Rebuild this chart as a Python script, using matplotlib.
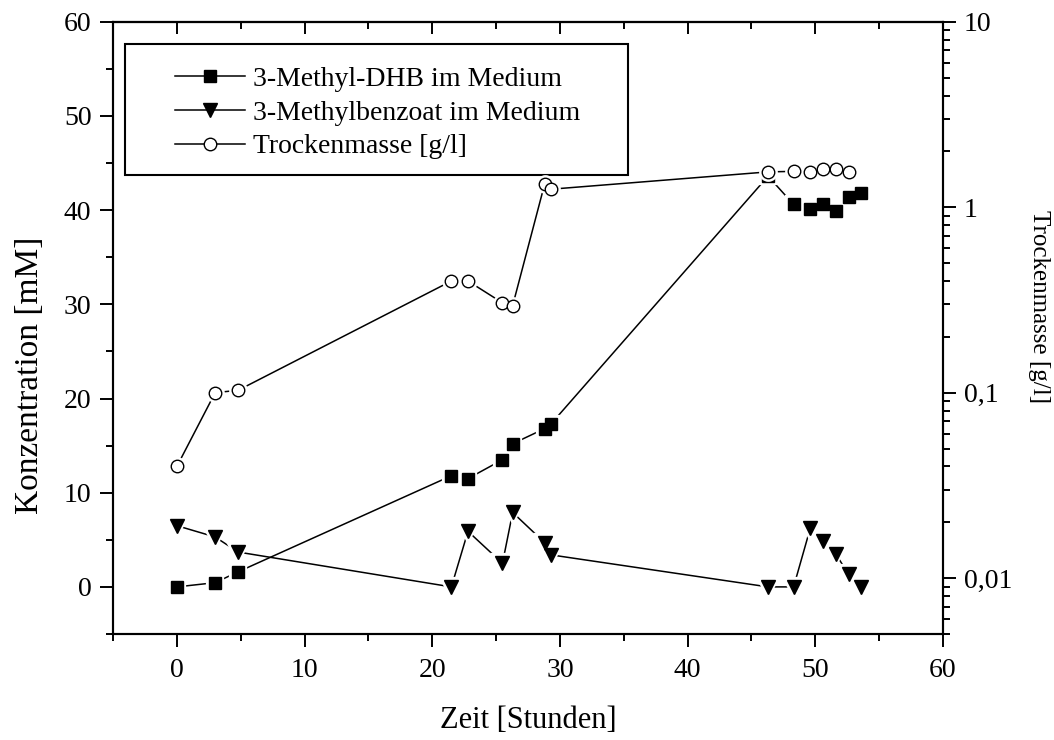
import matplotlib
matplotlib.use("Agg")
import matplotlib.pyplot as plt
from matplotlib.ticker import MultipleLocator, FixedLocator, FixedFormatter, LogLocator, NullFormatter
from matplotlib.lines import Line2D
from matplotlib.patches import Rectangle

plt.rcParams['font.family'] = ['Liberation Serif', 'DejaVu Serif']

# Sampling times [h]
time_h = [0, 3.0, 4.8, 21.5, 22.8, 25.5, 26.3, 28.8, 29.3,
          46.3, 48.3, 49.6, 50.6, 51.6, 52.6, 53.6]

# 3-Methyl-DHB in the medium [mM]
dhb_mM = [0.0, 0.45, 1.6, 11.8, 11.5, 13.5, 15.2, 16.8, 17.3,
          43.6, 40.6, 40.1, 40.7, 39.9, 41.4, 41.8]

# 3-Methylbenzoate in the medium [mM]
benzoat_mM = [6.5, 5.3, 3.7, 0.0, 5.9, 2.5, 7.9, 4.7, 3.4,
              0.0, 0.0, 6.2, 4.9, 3.5, 1.35, 0.0]

# Dry mass [g/l]
drymass_time_h = [0, 3.0, 4.8, 21.5, 22.8, 25.5, 26.3, 28.8, 29.3,
                  46.3, 48.3, 49.6, 50.6, 51.6, 52.6]
drymass_gl = [0.040, 0.10, 0.103, 0.40, 0.40, 0.305, 0.295, 1.33, 1.25,
              1.55, 1.56, 1.55, 1.60, 1.60, 1.55]

labels = ['3-Methyl-DHB im Medium', '3-Methylbenzoat im Medium', 'Trockenmasse [g/l]']
right_ticks = [0.01, 0.1, 1, 10]
right_ticklabels = ['0,01', '0,1', '1', '10']

FS = 20
LW_DATA = 1.1

fig = plt.figure(figsize=(10.54, 7.4), dpi=100)
ax = fig.add_axes([113 / 1054, 106 / 740, 830 / 1054, 612.3 / 740])
ax2 = ax.twinx()


def draw_series(axis, x, y, marker, ms, face):
    # connecting line, then a white halo so the line stops short of each symbol
    axis.plot(x, y, '-', color='black', lw=LW_DATA, zorder=2)
    axis.plot(x, y, ls='none', marker=marker, ms=ms, mfc='white',
              mec='white', mew=4.5, zorder=3)
    axis.plot(x, y, ls='none', marker=marker, ms=ms, mfc=face,
              mec='black', mew=1.0, zorder=4)


draw_series(ax, time_h, dhb_mM, 's', 9, 'black')
draw_series(ax, time_h, benzoat_mM, 'v', 10.5, 'black')
draw_series(ax2, drymass_time_h, drymass_gl, 'o', 9, 'white')

# left / bottom axes
ax.set_xlim(-5, 60)
ax.set_ylim(-5, 60)
ax.xaxis.set_major_locator(MultipleLocator(10))
ax.xaxis.set_minor_locator(MultipleLocator(5))
ax.yaxis.set_major_locator(MultipleLocator(10))
ax.yaxis.set_minor_locator(MultipleLocator(5))

for sp in ax.spines.values():
    sp.set_linewidth(1.5)
for sp in ax2.spines.values():
    sp.set_linewidth(1.5)

ax.tick_params(axis='x', which='both', direction='out', bottom=True, top=False,
               labelsize=FS, width=1.4, pad=8)
ax.tick_params(axis='x', which='major', length=9.5)
ax.tick_params(axis='x', which='minor', length=5)
ax.tick_params(axis='y', which='both', direction='out', left=True, right=False,
               labelsize=FS, width=1.4, pad=6)
ax.tick_params(axis='y', which='major', length=9.5)
ax.tick_params(axis='y', which='minor', length=5)

# inward ticks along the top edge
top = ax.secondary_xaxis('top')
top.xaxis.set_major_locator(MultipleLocator(10))
top.xaxis.set_minor_locator(MultipleLocator(5))
top.tick_params(axis='x', which='both', direction='in', width=1.4, labeltop=False)
top.tick_params(axis='x', which='major', length=8.5)
top.tick_params(axis='x', which='minor', length=5)
top.spines['top'].set_linewidth(1.5)

# right logarithmic axis
ax2.set_yscale('log')
ax2.set_ylim(0.005, 10)
ax2.yaxis.set_major_locator(FixedLocator(right_ticks))
ax2.yaxis.set_major_formatter(FixedFormatter(right_ticklabels))
ax2.yaxis.set_minor_locator(LogLocator(base=10, subs=[2, 3, 4, 5, 6, 7, 8, 9], numticks=20))
ax2.yaxis.set_minor_formatter(NullFormatter())
ax2.tick_params(axis='y', which='both', direction='out', labelsize=FS, width=1.4, pad=6)
ax2.tick_params(axis='y', which='major', length=9)
ax2.tick_params(axis='y', which='minor', length=5)

# axis titles
ax.set_xlabel('Zeit [Stunden]', fontsize=22, labelpad=16)
ax.set_ylabel('Konzentration [mM]', fontsize=24)
ax.yaxis.set_label_coords(-0.1000, 0.423)
ax.yaxis.label.set_va('center')
ax.yaxis.label.set_ha('center')
ax2.set_ylabel('Trockenmasse [g/l]', fontsize=18, rotation=270)
ax2.yaxis.set_label_coords(1.1157, 0.534)
ax2.yaxis.label.set_va('center')
ax2.yaxis.label.set_ha('center')

# legend
handles = [
    Line2D([], [], color='black', lw=LW_DATA, marker='s', ms=9, mfc='black', mec='black'),
    Line2D([], [], color='black', lw=LW_DATA, marker='v', ms=10.5, mfc='black', mec='black'),
    Line2D([], [], color='black', lw=LW_DATA, marker='o', ms=9, mfc='white', mec='black'),
]
ax.add_patch(Rectangle((0.01446, 0.7496), 0.6060, 0.2140, transform=ax.transAxes,
                       fill=True, facecolor='white', edgecolor='black', lw=1.5, zorder=6))
leg = ax2.legend(handles, labels, loc='upper left', bbox_to_anchor=(0.0747, 0.927),
                 bbox_transform=ax.transAxes, frameon=False, fontsize=FS,
                 handlelength=2.52, handletextpad=0.3, labelspacing=0.3,
                 borderpad=0, borderaxespad=0)
leg.set_zorder(7)

fig.savefig('out.png', dpi=100)
